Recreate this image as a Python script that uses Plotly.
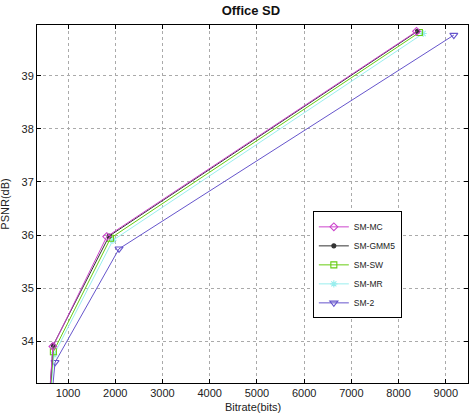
import plotly.graph_objects as go

series_names = ["SM-MC", "SM-GMM5", "SM-SW", "SM-MR", "SM-2"]
bitrate = {
    "SM-MC":   [560, 680, 1820, 8380],
    "SM-GMM5": [565, 685, 1870, 8400],
    "SM-SW":   [570, 690, 1900, 8440],
    "SM-MR":   [580, 700, 1950, 8520],
    "SM-2":    [600, 725, 2080, 9170],
}
psnr = {
    "SM-MC":   [32.4, 33.90, 35.97, 39.84],
    "SM-GMM5": [32.4, 33.92, 35.98, 39.84],
    "SM-SW":   [32.4, 33.80, 35.94, 39.82],
    "SM-MR":   [32.4, 33.74, 35.90, 39.80],
    "SM-2":    [32.4, 33.60, 35.74, 39.77],
}
x_ticks = [1000, 2000, 3000, 4000, 5000, 6000, 7000, 8000, 9000]
y_ticks = [34, 35, 36, 37, 38, 39]

styles = {
    "SM-MC":   dict(color="#cc44cc", symbol="diamond-open", size=6),
    "SM-GMM5": dict(color="#333333", symbol="circle", size=4),
    "SM-SW":   dict(color="#66cc11", symbol="square-open", size=6),
    "SM-MR":   dict(color="#99eeee", symbol="asterisk-open", size=6),
    "SM-2":    dict(color="#6655cc", symbol="triangle-down-open", size=7),
}

fig = go.Figure()
for name in ["SM-2", "SM-MR", "SM-SW", "SM-GMM5", "SM-MC"]:
    s = styles[name]
    fig.add_trace(go.Scatter(
        x=bitrate[name], y=psnr[name], name=name, mode="lines+markers",
        line=dict(color=s["color"], width=1),
        marker=dict(symbol=s["symbol"], size=s["size"], color=s["color"],
                    line=dict(color=s["color"], width=1.1)),
    ))

axis_common = dict(
    showline=True, linecolor="black", linewidth=1, mirror="ticks",
    ticks="inside", ticklen=4, tickcolor="black",
    showgrid=True, gridcolor="#aaaaaa", griddash="dot", gridwidth=1,
    zeroline=False, tickfont=dict(size=11, color="#222222"),
    automargin=False,
)

fig.update_layout(
    width=469, height=413,
    margin=dict(l=37, r=1, t=25, b=30),
    paper_bgcolor="white", plot_bgcolor="white",
    font=dict(family="Liberation Sans, Arial, sans-serif", color="#222222"),
    title=dict(text="<b>Office SD</b>", x=0.535, xanchor="center", y=0.985, yanchor="top",
               font=dict(size=13, color="#111111")),
    xaxis=dict(range=[343, 9470], tickvals=x_ticks, **axis_common),
    yaxis=dict(range=[33.21, 39.96], tickvals=y_ticks, **axis_common),
    legend=dict(x=0.64, y=0.33, xanchor="left", yanchor="middle",
                bgcolor="white", bordercolor="black", borderwidth=1,
                font=dict(size=8.5), traceorder="reversed",
                itemwidth=30, tracegroupgap=0),
    showlegend=True,
    annotations=[
        dict(text="Bitrate(bits)", xref="paper", yref="paper", x=0.5, y=-0.045,
             xanchor="center", yanchor="top", showarrow=False, font=dict(size=11)),
        dict(text="PSNR(dB)", xref="paper", yref="paper", x=-0.075, y=0.5,
             xanchor="center", yanchor="middle", showarrow=False, textangle=-90,
             font=dict(size=11)),
    ],
)

fig.write_html("out.html", config={"displayModeBar": False},
               post_script="document.body.style.margin='0';document.body.style.overflow='hidden';")
